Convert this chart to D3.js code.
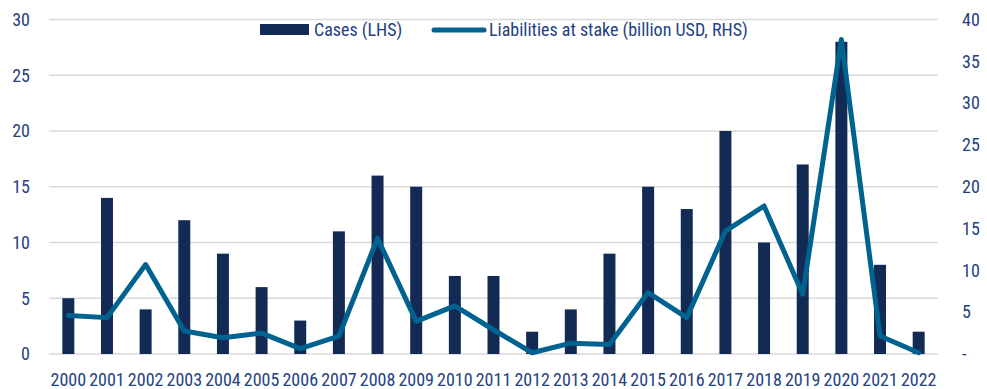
<!DOCTYPE html>
<html>
<head>
<meta charset="utf-8">
<script src="https://cdn.jsdelivr.net/npm/d3@7"></script>
<style>
  html, body { margin: 0; padding: 0; background: #ffffff; }
  svg { display: block; }
  text { font-family: "Liberation Sans Narrow", "Roboto Condensed", "DejaVu Sans Condensed", sans-serif; fill: #1f4282; }
</style>
</head>
<body>
<div id="chart"></div>
<script>
const years = ["2000","2001","2002","2003","2004","2005","2006","2007","2008","2009","2010","2011","2012","2013","2014","2015","2016","2017","2018","2019","2020","2021","2022"];
const cases = [5,14,4,12,9,6,3,11,16,15,7,7,2,4,9,15,13,20,10,17,28,8,2];
const liabilities = [4.6,4.35,10.7,2.75,1.95,2.5,0.65,2.15,13.85,3.9,5.75,2.9,0.15,1.3,1.15,7.35,4.35,14.7,17.7,7.15,37.6,2.15,0.15];
const leftTicks = [0,5,10,15,20,25,30];
const rightTicks = [0,5,10,15,20,25,30,35,40];
const seriesNames = ["Cases (LHS)", "Liabilities at stake (billion USD, RHS)"];

const W = 987, H = 389;
const barColor = "#132a55";
const lineColor = "#00628f";
const gridColor = "#d9d9d9";

const svg = d3.select("#chart").append("svg").attr("width", W).attr("height", H);

const x = d3.scaleBand().domain(years).range([49, 938]).paddingInner(0.69).paddingOuter(0.345);
const yL = d3.scaleLinear().domain([0, 30]).range([354, 19.5]);
const yR = d3.scaleLinear().domain([0, 40]).range([354, 19.5]);

// gridlines
svg.append("g").selectAll("line").data(leftTicks).join("line")
  .attr("x1", 49).attr("x2", 938)
  .attr("y1", d => yL(d)).attr("y2", d => yL(d))
  .attr("stroke", gridColor).attr("stroke-width", 1.5);

// bars
svg.append("g").selectAll("rect").data(cases).join("rect")
  .attr("x", (d, i) => x(years[i]))
  .attr("width", x.bandwidth())
  .attr("y", d => yL(d))
  .attr("height", d => yL(0) - yL(d))
  .attr("fill", barColor);

// line
const line = d3.line()
  .x((d, i) => x(years[i]) + x.bandwidth() / 2)
  .y(d => yR(d));
svg.append("path").datum(liabilities)
  .attr("d", line)
  .attr("fill", "none")
  .attr("stroke", lineColor)
  .attr("stroke-width", 5)
  .attr("stroke-linejoin", "round")
  .attr("stroke-linecap", "round");

// left axis
const axL = d3.axisLeft(yL).tickValues(leftTicks).tickSize(0).tickPadding(0);
const gL = svg.append("g").attr("transform", "translate(30,0)").call(axL);
gL.select(".domain").remove();
gL.selectAll("text").attr("font-size", 18).attr("fill", "#1f4282")
  .style("font-family", null);

// right axis
const axR = d3.axisRight(yR).tickValues(rightTicks).tickSize(0).tickPadding(0)
  .tickFormat(d => d === 0 ? "-" : d);
const gR = svg.append("g").attr("transform", "translate(962,0)").call(axR);
gR.select(".domain").remove();
gR.selectAll("text").attr("font-size", 18).attr("fill", "#1f4282");

// bottom axis
const axB = d3.axisBottom(x).tickSize(0).tickPadding(0);
const gB = svg.append("g").attr("transform", "translate(0,373)").call(axB);
gB.select(".domain").remove();
gB.selectAll("text").attr("font-size", 18).attr("fill", "#1f4282").attr("dy", "0.71em");

// strip d3 default font attrs so CSS applies
svg.selectAll("g").attr("font-family", null);

// legend
const leg = svg.append("g");
leg.append("rect").attr("x", 260).attr("y", 24).attr("width", 49).attr("height", 11).attr("fill", barColor);
leg.append("text").attr("x", 314).attr("y", 30).attr("dy", "0.35em").attr("font-size", 18).text(seriesNames[0]);
leg.append("line").attr("x1", 434).attr("x2", 484).attr("y1", 30).attr("y2", 30)
  .attr("stroke", lineColor).attr("stroke-width", 5).attr("stroke-linecap", "round");
leg.append("text").attr("x", 489).attr("y", 30).attr("dy", "0.35em").attr("font-size", 18).text(seriesNames[1]);
</script>
</body>
</html>
